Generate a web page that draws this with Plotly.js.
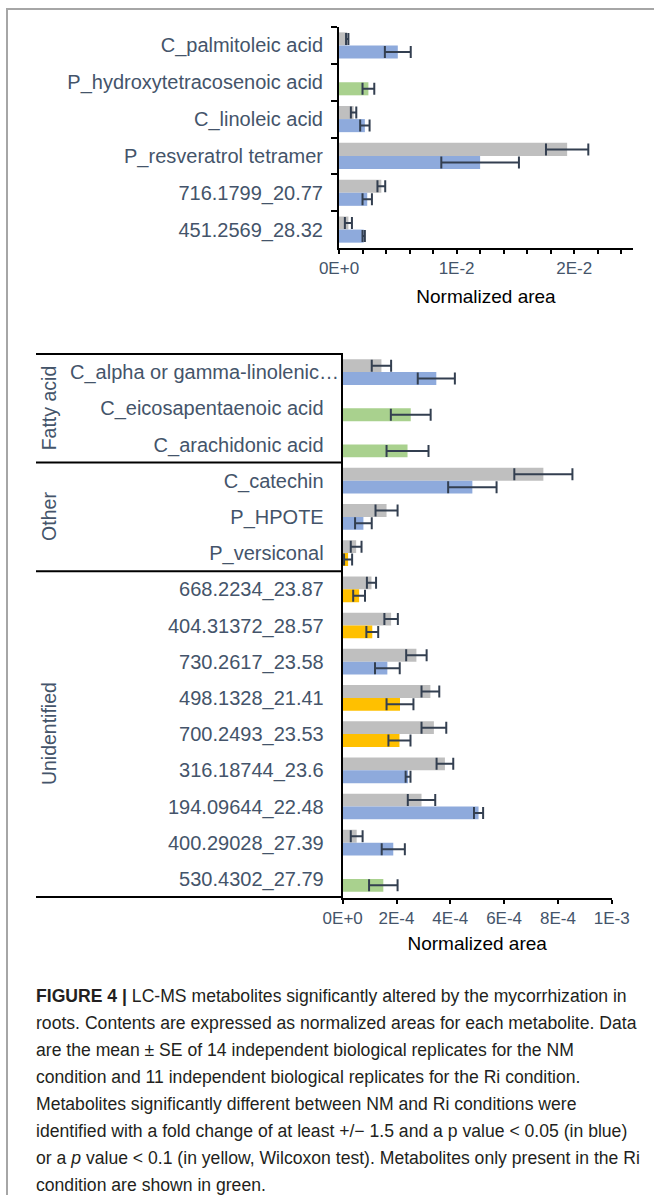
<!DOCTYPE html>
<html>
<head>
<meta charset="utf-8">
<script src="https://cdn.plot.ly/plotly-3.0.1.min.js"></script>
<style>
  html, body { margin: 0; padding: 0; background: #ffffff; }
  #wrap { position: relative; width: 654px; height: 1195px; overflow: hidden; }
  #frame { position: absolute; left: 6px; top: 8px; width: 660px; height: 1200px;
           border-left: 2px solid #a6a6a6; border-top: 2px solid #a6a6a6; }
  #chart { position: absolute; left: 0; top: 0; width: 654px; height: 1195px; }
  #caption { position: absolute; left: 36px; top: 983px; font-family: "Liberation Sans", Arial, sans-serif;
             font-size: 17.6px; line-height: 27px; color: #231f20; white-space: nowrap; }
</style>
</head>
<body>
<div id="wrap">
  <div id="frame"></div>
  <div id="chart"></div>
  <div id="caption"></div>
</div>
<script>
// ---------- Top panel data ----------
const topCategories = ['C_palmitoleic acid', 'P_hydroxytetracosenoic acid', 'C_linoleic acid',
                       'P_resveratrol tetramer', '716.1799_20.77', '451.2569_28.32'];
const topNM      = [0.0007, null, 0.00124, 0.0194, 0.0036, 0.0008];
const topNMErr   = [0.0001, null, 0.00023, 0.0018, 0.00033, 0.0003];
const topRi      = [0.0050, 0.0025, 0.0022, 0.0120, 0.0024, 0.0021];
const topRiErr   = [0.0011, 0.0005, 0.0004, 0.0033, 0.0004, 0.0001];
const topRiClass = ['blue', 'green', 'blue', 'blue', 'blue', 'blue'];
const topTickVals = [0, 0.01, 0.02];
const topTickText = ['0E+0', '1E-2', '2E-2'];

// ---------- Bottom panel data ----------
const botCategories = ['C_alpha or gamma-linolenic…', 'C_eicosapentaenoic acid', 'C_arachidonic acid',
                       'C_catechin', 'P_HPOTE', 'P_versiconal',
                       '668.2234_23.87', '404.31372_28.57', '730.2617_23.58', '498.1328_21.41',
                       '700.2493_23.53', '316.18744_23.6', '194.09644_22.48', '400.29028_27.39', '530.4302_27.79'];
const botGroups = ['Fatty acid', 'Fatty acid', 'Fatty acid', 'Other', 'Other', 'Other',
                   'Unidentified', 'Unidentified', 'Unidentified', 'Unidentified', 'Unidentified',
                   'Unidentified', 'Unidentified', 'Unidentified', 'Unidentified'];
const botNM      = [1.44e-4, null, null, 7.46e-4, 1.63e-4, 0.50e-4, 1.07e-4, 1.80e-4, 2.74e-4,
                    3.26e-4, 3.39e-4, 3.80e-4, 2.93e-4, 0.52e-4, null];
const botNMErr   = [0.36e-4, null, null, 1.08e-4, 0.41e-4, 0.20e-4, 0.17e-4, 0.25e-4, 0.38e-4,
                    0.33e-4, 0.46e-4, 0.31e-4, 0.51e-4, 0.22e-4, null];
const botRi      = [3.48e-4, 2.53e-4, 2.41e-4, 4.82e-4, 0.77e-4, 0.20e-4, 0.61e-4, 1.10e-4, 1.66e-4,
                    2.13e-4, 2.11e-4, 2.43e-4, 5.05e-4, 1.88e-4, 1.51e-4];
const botRiErr   = [0.69e-4, 0.74e-4, 0.78e-4, 0.90e-4, 0.31e-4, 0.15e-4, 0.22e-4, 0.22e-4, 0.46e-4,
                    0.50e-4, 0.41e-4, 0.09e-4, 0.17e-4, 0.43e-4, 0.53e-4];
const botRiClass = ['blue', 'green', 'green', 'blue', 'blue', 'yellow', 'yellow', 'yellow', 'blue',
                    'yellow', 'yellow', 'blue', 'blue', 'blue', 'green'];
const botTickVals = [0, 2e-4, 4e-4, 6e-4, 8e-4, 1e-3];
const botTickText = ['0E+0', '2E-4', '4E-4', '6E-4', '8E-4', '1E-3'];
// labels truncated by the original software run right up to the axis
const botTruncated = [true, false, false, false, false, false, false, false, false, false, false, false, false, false, false];

const axisTitle = 'Normalized area';

const captionLines = [
  '<b>FIGURE 4 |</b> LC-MS metabolites significantly altered by the mycorrhization in',
  'roots. Contents are expressed as normalized areas for each metabolite. Data',
  'are the mean ± SE of 14 independent biological replicates for the NM',
  'condition and 11 independent biological replicates for the Ri condition.',
  'Metabolites significantly different between NM and Ri conditions were',
  'identified with a fold change of at least +/− 1.5 and a p value &lt; 0.05 (in blue)',
  'or a <i>p</i> value &lt; 0.1 (in yellow, Wilcoxon test). Metabolites only present in the Ri',
  'condition are shown in green.'
];

// ---------- Styling ----------
const W = 654, H = 1195;
const colorMap = { blue: '#8eaadc', green: '#a9d18e', yellow: '#ffc000' };
const grayColor = '#bfbfbf';
const errColor = '#333f50';
const labelColor = '#44546a';
const font = 'Liberation Sans, Arial, sans-serif';
const px = v => v / W;
const py = v => 1 - v / H;

const errStyle = { type: 'data', visible: true, color: errColor, thickness: 2, width: 6 };

const traces = [
  { type: 'bar', orientation: 'h', name: 'NM', y: topCategories, x: topNM,
    xaxis: 'x', yaxis: 'y', marker: { color: grayColor },
    error_x: Object.assign({ array: topNMErr }, errStyle), hoverinfo: 'skip', showlegend: false },
  { type: 'bar', orientation: 'h', name: 'Ri', y: topCategories, x: topRi,
    xaxis: 'x', yaxis: 'y', marker: { color: topRiClass.map(c => colorMap[c]) },
    error_x: Object.assign({ array: topRiErr }, errStyle), hoverinfo: 'skip', showlegend: false },
  { type: 'bar', orientation: 'h', name: 'NM', y: botCategories, x: botNM,
    xaxis: 'x2', yaxis: 'y2', marker: { color: grayColor },
    error_x: Object.assign({ array: botNMErr }, errStyle), hoverinfo: 'skip', showlegend: false },
  { type: 'bar', orientation: 'h', name: 'Ri', y: botCategories, x: botRi,
    xaxis: 'x2', yaxis: 'y2', marker: { color: botRiClass.map(c => colorMap[c]) },
    error_x: Object.assign({ array: botRiErr }, errStyle), hoverinfo: 'skip', showlegend: false }
];

const topXDomain = [px(339), px(633)];
const topYDomain = [py(248), py(27)];
const botXDomain = [px(342.7), px(611.7)];
const botYDomain = [py(898), py(353)];
const topRange = [0, 0.025];
const botRange = [0, 0.001];

const tickFont = { family: font, size: 17, color: labelColor };
const catFont = { family: font, size: 20, color: labelColor };
const titleFont = { family: font, size: 19, color: '#000' };

// group boundaries/centres for the bottom panel
const groupNames = [];
const groupStart = {}, groupEnd = {};
botGroups.forEach((g, i) => {
  if (!(g in groupStart)) { groupNames.push(g); groupStart[g] = i; }
  groupEnd[g] = i;
});

const shapes = [];
groupNames.forEach(g => {
  shapes.push({ type: 'line', xref: 'paper', yref: 'y2', x0: px(36), x1: botXDomain[0],
                y0: groupStart[g] - 0.5, y1: groupStart[g] - 0.5, line: { color: '#000', width: 2 } });
});
// bottom axis extension to the left under group labels
shapes.push({ type: 'line', xref: 'paper', yref: 'y2', x0: px(36), x1: botXDomain[0],
              y0: botCategories.length - 0.5, y1: botCategories.length - 0.5, line: { color: '#000', width: 2 } });

const annotations = groupNames.map(g => ({
  xref: 'paper', yref: 'y2', x: px(49), y: (groupStart[g] + groupEnd[g]) / 2,
  text: g, textangle: -90, showarrow: false, xanchor: 'center', yanchor: 'middle',
  font: { family: font, size: 19.5, color: labelColor }
}));
// truncated category labels placed flush against the axis
botCategories.forEach((c, i) => {
  if (botTruncated[i]) {
    annotations.push({ xref: 'paper', yref: 'y2', x: botXDomain[0] - px(2), y: i,
      text: c, showarrow: false, xanchor: 'right', yanchor: 'middle', font: catFont });
  }
});

const layout = {
  width: W, height: H, autosize: false,
  margin: { l: 0, r: 0, t: 0, b: 0, pad: 0 },
  paper_bgcolor: 'rgba(0,0,0,0)', plot_bgcolor: 'rgba(0,0,0,0)',
  barmode: 'group', bargap: 0.29, bargroupgap: 0,
  showlegend: false,
  font: { family: font, color: labelColor },
  xaxis: {
    domain: topXDomain, anchor: 'y', range: topRange, fixedrange: true,
    showgrid: false, zeroline: false, showline: true, linecolor: '#000', linewidth: 2,
    tickmode: 'array', tickvals: topTickVals, ticktext: topTickText,
    ticks: 'outside', ticklen: 4, tickwidth: 2, tickcolor: '#000', tickfont: tickFont,
    minor: { tickmode: 'linear', tick0: 0, dtick: 0.002, ticks: 'outside', ticklen: 4, tickwidth: 2, tickcolor: '#000' },
    title: { text: axisTitle, font: titleFont, standoff: 12 }
  },
  xaxis3: {
    overlaying: 'x', anchor: 'y', side: 'bottom', range: topRange, fixedrange: true,
    showgrid: false, zeroline: false, showline: false, showticklabels: false,
    tickmode: 'linear', tick0: 0, dtick: 0.002, ticks: 'inside', ticklen: 6, tickwidth: 2, tickcolor: '#000'
  },
  yaxis: {
    domain: topYDomain, anchor: 'x', type: 'category', autorange: 'reversed', fixedrange: true,
    showgrid: false, zeroline: false, showline: true, linecolor: '#000', linewidth: 2,
    ticks: 'outside', tickson: 'boundaries', ticklen: 6, tickwidth: 2, tickcolor: '#000',
    tickfont: catFont, ticklabelstandoff: 10
  },
  xaxis2: {
    domain: botXDomain, anchor: 'y2', range: botRange, fixedrange: true,
    showgrid: false, zeroline: false, showline: true, linecolor: '#000', linewidth: 2,
    tickmode: 'array', tickvals: botTickVals, ticktext: botTickText,
    ticks: 'outside', ticklen: 4, tickwidth: 2, tickcolor: '#000', tickfont: tickFont,
    title: { text: axisTitle, font: titleFont, standoff: 9 }
  },
  xaxis4: {
    overlaying: 'x2', anchor: 'y2', side: 'bottom', range: botRange, fixedrange: true,
    showgrid: false, zeroline: false, showline: false, showticklabels: false,
    tickmode: 'array', tickvals: botTickVals, ticks: 'inside', ticklen: 6, tickwidth: 2, tickcolor: '#000'
  },
  yaxis2: {
    domain: botYDomain, anchor: 'x2', type: 'category', autorange: 'reversed', fixedrange: true,
    showgrid: false, zeroline: false, showline: true, linecolor: '#000', linewidth: 2,
    ticks: '', tickfont: catFont, ticklabelstandoff: 13,
    tickmode: 'array', tickvals: botCategories,
    ticktext: botCategories.map((c, i) => botTruncated[i] ? '' : c)
  },
  shapes: shapes,
  annotations: annotations
};

Plotly.newPlot('chart', traces, layout, { staticPlot: true, displayModeBar: false });

document.getElementById('caption').innerHTML = captionLines.join('<br>');
</script>
</body>
</html>
